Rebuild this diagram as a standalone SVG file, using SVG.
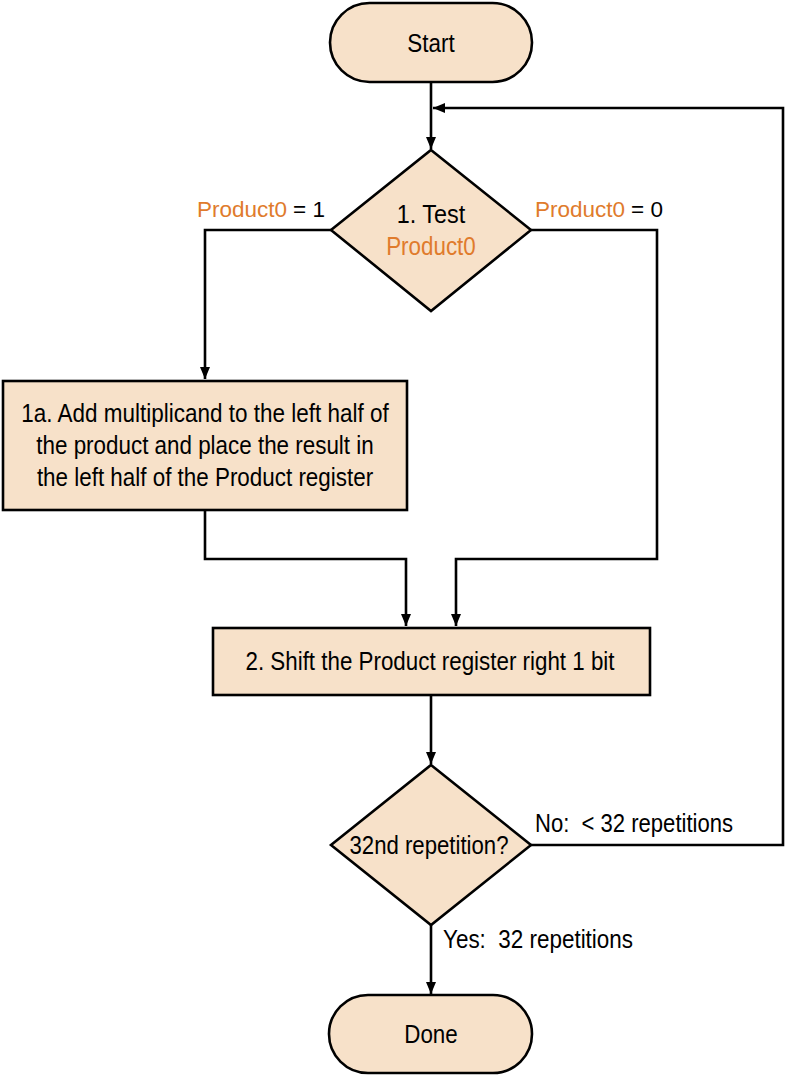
<svg xmlns="http://www.w3.org/2000/svg" width="788" height="1080" viewBox="0 0 788 1080">
<style>
.shape{fill:#F7E1C9;stroke:#000;stroke-width:2.6}
.t{font-family:"Liberation Sans",Arial,sans-serif;font-size:26px;fill:#000}
.s{font-size:22.5px}
.c{text-anchor:middle}
.o{fill:#E07B2C}
.ln{fill:none;stroke:#000;stroke-width:2.6}
</style>
<defs>
<marker id="ah" viewBox="0 0 12 10" refX="12" refY="5" markerWidth="12" markerHeight="10" markerUnits="userSpaceOnUse" orient="auto">
<path d="M0,0 L12,5 L0,10 Z" fill="#000"/>
</marker>
</defs>
<rect width="788" height="1080" fill="#fff"/>
<g id="connectors">
<path class="ln" d="M431,82 V149" marker-end="url(#ah)"/>
<path class="ln" d="M531,845 H783 V108 H433" marker-end="url(#ah)"/>
<path class="ln" d="M331,230 H205 V379" marker-end="url(#ah)"/>
<path class="ln" d="M531,230 H657 V559 H456 V626" marker-end="url(#ah)"/>
<path class="ln" d="M205,510 V559 H406 V626" marker-end="url(#ah)"/>
<path class="ln" d="M431,695 V764" marker-end="url(#ah)"/>
<path class="ln" d="M431,925 V994" marker-end="url(#ah)"/>
</g>
<g id="start">
<rect class="shape" x="330" y="3" width="202" height="79" rx="39.5"/>
<text class="t c" x="431" y="52" textLength="47.3" lengthAdjust="spacingAndGlyphs">Start</text>
</g>
<g id="test">
<polygon class="shape" points="431,150 531,230 431,311 331,230"/>
<text class="t c" x="431" y="223" textLength="68.5" lengthAdjust="spacingAndGlyphs">1. Test</text>
<text class="t c o" x="431" y="255" textLength="89.6" lengthAdjust="spacingAndGlyphs">Product0</text>
</g>
<g id="labels-test">
<text class="t s o" x="197" y="217">Product0</text>
<text class="t s" x="293" y="217">= 1</text>
<text class="t s o" x="535" y="217">Product0</text>
<text class="t s" x="631" y="217">= 0</text>
</g>
<g id="add">
<rect class="shape" x="3" y="381" width="404" height="129"/>
<text class="t c" x="205" y="422" textLength="367.3" lengthAdjust="spacingAndGlyphs">1a. Add multiplicand to the left half of</text>
<text class="t c" x="205" y="454" textLength="337.4" lengthAdjust="spacingAndGlyphs">the product and place the result in</text>
<text class="t c" x="205" y="486" textLength="336.2" lengthAdjust="spacingAndGlyphs">the left half of the Product register</text>
</g>
<g id="shift">
<rect class="shape" x="213" y="628" width="437" height="67"/>
<text class="t c" x="430" y="670" textLength="369" lengthAdjust="spacingAndGlyphs">2. Shift the Product register right 1 bit</text>
</g>
<g id="repeat">
<polygon class="shape" points="431,765 531,845 431,925 331,845"/>
<text class="t c" x="429" y="854" textLength="159" lengthAdjust="spacingAndGlyphs">32nd repetition?</text>
</g>
<g id="labels-repeat">
<text class="t" x="535" y="832" xml:space="preserve" textLength="198" lengthAdjust="spacingAndGlyphs">No:  &lt; 32 repetitions</text>
<text class="t" x="443" y="948" xml:space="preserve" textLength="190" lengthAdjust="spacingAndGlyphs">Yes:  32 repetitions</text>
</g>
<g id="done">
<rect class="shape" x="329" y="995" width="203" height="78" rx="39"/>
<text class="t c" x="431" y="1043" textLength="53.5" lengthAdjust="spacingAndGlyphs">Done</text>
</g>
</svg>
